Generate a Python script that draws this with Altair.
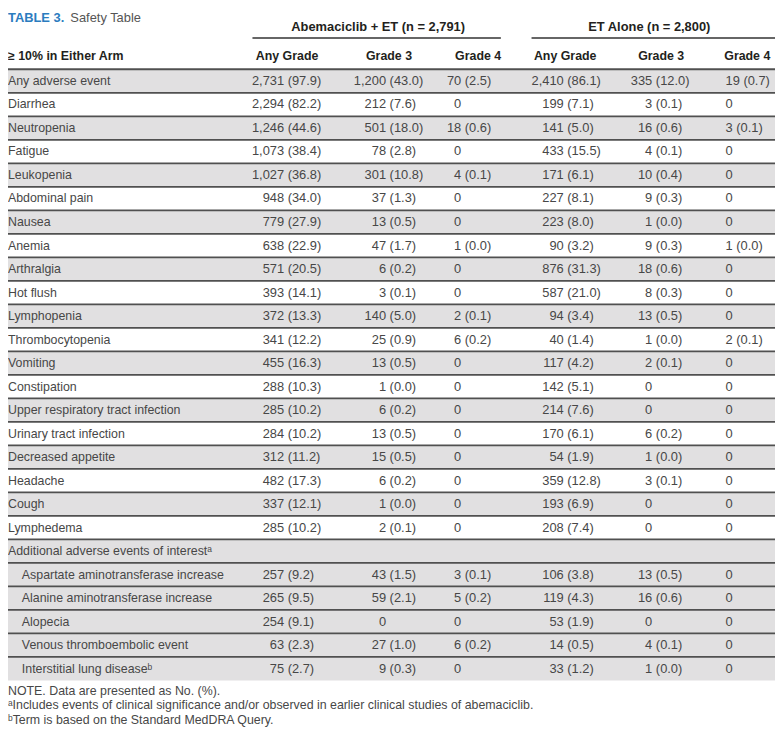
import altair as alt
import pandas as pd

# ---------------- data ----------------
labels = [
    "Any adverse event", "Diarrhea", "Neutropenia", "Fatigue", "Leukopenia",
    "Abdominal pain", "Nausea", "Anemia", "Arthralgia", "Hot flush",
    "Lymphopenia", "Thrombocytopenia", "Vomiting", "Constipation",
    "Upper respiratory tract infection", "Urinary tract infection",
    "Decreased appetite", "Headache", "Cough", "Lymphedema",
    "Additional adverse events of interest\u1d43",
    "Aspartate aminotransferase increase", "Alanine aminotransferase increase",
    "Alopecia", "Venous thromboembolic event", "Interstitial lung disease\u1d47",
]
indented = [False] * 21 + [True] * 5

abema_any_n = [2731, 2294, 1246, 1073, 1027, 948, 779, 638, 571, 393, 372, 341, 455, 288, 285, 284, 312, 482, 337, 285, None, 257, 265, 254, 63, 75]
abema_any_pct = [97.9, 82.2, 44.6, 38.4, 36.8, 34.0, 27.9, 22.9, 20.5, 14.1, 13.3, 12.2, 16.3, 10.3, 10.2, 10.2, 11.2, 17.3, 12.1, 10.2, None, 9.2, 9.5, 9.1, 2.3, 2.7]
abema_g3_n = [1200, 212, 501, 78, 301, 37, 13, 47, 6, 3, 140, 25, 13, 1, 6, 13, 15, 6, 1, 2, None, 43, 59, 0, 27, 9]
abema_g3_pct = [43.0, 7.6, 18.0, 2.8, 10.8, 1.3, 0.5, 1.7, 0.2, 0.1, 5.0, 0.9, 0.5, 0.0, 0.2, 0.5, 0.5, 0.2, 0.0, 0.1, None, 1.5, 2.1, None, 1.0, 0.3]
abema_g4_n = [70, 0, 18, 0, 4, 0, 0, 1, 0, 0, 2, 6, 0, 0, 0, 0, 0, 0, 0, 0, None, 3, 5, 0, 6, 0]
abema_g4_pct = [2.5, None, 0.6, None, 0.1, None, None, 0.0, None, None, 0.1, 0.2, None, None, None, None, None, None, None, None, None, 0.1, 0.2, None, 0.2, None]
et_any_n = [2410, 199, 141, 433, 171, 227, 223, 90, 876, 587, 94, 40, 117, 142, 214, 170, 54, 359, 193, 208, None, 106, 119, 53, 14, 33]
et_any_pct = [86.1, 7.1, 5.0, 15.5, 6.1, 8.1, 8.0, 3.2, 31.3, 21.0, 3.4, 1.4, 4.2, 5.1, 7.6, 6.1, 1.9, 12.8, 6.9, 7.4, None, 3.8, 4.3, 1.9, 0.5, 1.2]
et_g3_n = [335, 3, 16, 4, 10, 9, 1, 9, 18, 8, 13, 1, 2, 0, 0, 6, 1, 3, 0, 0, None, 13, 16, 0, 4, 1]
et_g3_pct = [12.0, 0.1, 0.6, 0.1, 0.4, 0.3, 0.0, 0.3, 0.6, 0.3, 0.5, 0.0, 0.1, None, None, 0.2, 0.0, 0.1, None, None, None, 0.5, 0.6, None, 0.1, 0.0]
et_g4_n = [19, 0, 3, 0, 0, 0, 0, 1, 0, 0, 0, 2, 0, 0, 0, 0, 0, 0, 0, 0, None, 0, 0, 0, 0, 0]
et_g4_pct = [0.7, None, 0.1, None, None, None, None, 0.0, None, None, None, 0.1, None, None, None, None, None, None, None, None, None, None, None, None, None, None]

col_keys = ["a_any", "a_g3", "a_g4", "e_any", "e_g3", "e_g4"]
col_headers = ["Any Grade", "Grade 3", "Grade 4", "Any Grade", "Grade 3", "Grade 4"]
group_headers = ["Abemaciclib + ET (n = 2,791)", "ET Alone (n = 2,800)"]
stub_header = "\u2265 10% in Either Arm"
title_label = "TABLE 3."
title_text = "Safety Table"
footnotes = [
    "NOTE. Data are presented as No. (%).",
    "\u1d43Includes events of clinical significance and/or observed in earlier clinical studies of abemaciclib.",
    "\u1d47Term is based on the Standard MedDRA Query.",
]

# ---------------- layout ----------------
W, H = 775, 724
ROW_TOP, ROW_H = 58.125, 23.75
n_rows = len(labels)
yscale = alt.Scale(domain=[-0.5, n_rows - 0.5], range=[ROW_TOP, ROW_TOP + n_rows * ROW_H])
col_anchor_px = [279, 382, 458, 561.5, 651, 725]
xscale = alt.Scale(type="linear", domain=list(range(len(col_keys))), range=col_anchor_px)
header_x = [282, 385, 475, 563, 660, 747]

GRAY = "#e1e0e1"
LINE = "#505050"
BODY = "#474747"
HEAD = "#231f20"
BODY_FONT = "Liberation Sans"
HEAD_FONT = "Liberation Sans"
HEAD_SIZE = 12.5

rows = pd.DataFrame({
    "row": list(range(n_rows)),
    "label": labels,
    "indent": indented,
})
rows["shaded"] = [(i % 2 == 0) or (i >= 20) for i in range(n_rows)]
rows["top"] = rows["row"] - 0.5
rows["bot"] = rows["row"] + 0.5

cols = [
    (abema_any_n, abema_any_pct),
    (abema_g3_n, abema_g3_pct),
    (abema_g4_n, abema_g4_pct),
    (et_any_n, et_any_pct),
    (et_g3_n, et_g3_pct),
    (et_g4_n, et_g4_pct),
]
cells = []
for ci, (ns, ps) in enumerate(cols):
    for i, (n, p) in enumerate(zip(ns, ps)):
        if n is None:
            continue
        num = f"{n:,}"
        pct = f"({p:.1f})" if p is not None else ""
        full = num + (" " + pct if pct else "")
        cells.append({"row": i, "ci": ci, "num": num, "pct": pct, "full": full})
cells = pd.DataFrame(cells)

base_rows = alt.Chart(rows)

bands = base_rows.mark_rect(color=GRAY).encode(
    x=alt.value(0), x2=alt.value(W),
    y=alt.Y("top:Q", scale=yscale, axis=None), y2="bot:Q",
).transform_filter("datum.shaded")

rules = base_rows.mark_rule(color=LINE, strokeWidth=1.8).encode(
    x=alt.value(0), x2=alt.value(W),
    y=alt.Y("top:Q", scale=yscale, axis=None),
)

lab_main = base_rows.mark_text(align="left", baseline="middle", font=BODY_FONT, fontSize=12.5, color=BODY).encode(
    x=alt.value(0), y=alt.Y("row:Q", scale=yscale, axis=None), text="label:N",
).transform_filter("!datum.indent")

lab_ind = base_rows.mark_text(align="left", baseline="middle", font=BODY_FONT, fontSize=12.5, color=BODY).encode(
    x=alt.value(14), y=alt.Y("row:Q", scale=yscale, axis=None), text="label:N",
).transform_filter("datum.indent")

base_cells = alt.Chart(cells)
num_txt = base_cells.mark_text(align="right", baseline="middle", font=BODY_FONT, fontSize=13, color=BODY).encode(
    x=alt.X("ci:Q", scale=xscale, axis=None),
    y=alt.Y("row:Q", scale=yscale, axis=None), text="num:N",
).transform_filter("datum.ci < 5")

pct_txt = base_cells.mark_text(align="left", baseline="middle", dx=3.6, font=BODY_FONT, fontSize=13, color=BODY).encode(
    x=alt.X("ci:Q", scale=xscale, axis=None),
    y=alt.Y("row:Q", scale=yscale, axis=None), text="pct:N",
).transform_filter("datum.ci < 5")

last_txt = base_cells.mark_text(align="left", baseline="middle", font=BODY_FONT, fontSize=13, color=BODY).encode(
    x=alt.X("ci:Q", scale=xscale, axis=None),
    y=alt.Y("row:Q", scale=yscale, axis=None), text="full:N",
).transform_filter("datum.ci == 5")

hdr_layers = []
for hx, ht in zip(header_x, col_headers):
    hdr_layers.append(
        alt.Chart(pd.DataFrame({"t": [ht]})).mark_text(
            align="center", baseline="middle", font=HEAD_FONT, fontSize=HEAD_SIZE, fontWeight="bold", color=HEAD
        ).encode(x=alt.value(hx), y=alt.value(45), text="t:N")
    )
hdr_layers.append(
    alt.Chart(pd.DataFrame({"t": [stub_header]})).mark_text(
        align="left", baseline="middle", font=HEAD_FONT, fontSize=HEAD_SIZE, fontWeight="bold", color=HEAD
    ).encode(x=alt.value(0), y=alt.value(45), text="t:N")
)
for gx, gt in zip([374, 648], group_headers):
    hdr_layers.append(
        alt.Chart(pd.DataFrame({"t": [gt]})).mark_text(
            align="center", baseline="middle", font=HEAD_FONT, fontSize=13, fontWeight="bold", color=HEAD
        ).encode(x=alt.value(gx), y=alt.value(15), text="t:N")
    )
for x1, x2 in [(247, 498), (529, W)]:
    hdr_layers.append(
        alt.Chart(pd.DataFrame({"a": [0]})).mark_rule(color="#333333", strokeWidth=1.5).encode(
            x=alt.value(x1), x2=alt.value(x2), y=alt.value(26.5)
        )
    )
hdr_layers.append(
    alt.Chart(pd.DataFrame({"t": [title_label]})).mark_text(
        align="left", baseline="middle", font=HEAD_FONT, fontSize=13, fontWeight="bold", color="#2b7cbf"
    ).encode(x=alt.value(0), y=alt.value(6), text="t:N")
)
hdr_layers.append(
    alt.Chart(pd.DataFrame({"t": [title_text]})).mark_text(
        align="left", baseline="middle", font=BODY_FONT, fontSize=13, color="#555555"
    ).encode(x=alt.value(63), y=alt.value(6), text="t:N")
)
for fy, ft in zip([686, 701, 716], footnotes):
    hdr_layers.append(
        alt.Chart(pd.DataFrame({"t": [ft]})).mark_text(
            align="left", baseline="middle", font=BODY_FONT, fontSize=12.5, color=BODY
        ).encode(x=alt.value(0), y=alt.value(fy), text="t:N")
    )

chart = alt.layer(
    bands, rules, lab_main, lab_ind, num_txt, pct_txt, last_txt, *hdr_layers
).properties(
    width=W, height=H, padding=0, autosize=alt.AutoSizeParams(type="none")
).configure_view(stroke=None)

chart.save("out.html", embed_options={"renderer": "svg", "actions": False})
